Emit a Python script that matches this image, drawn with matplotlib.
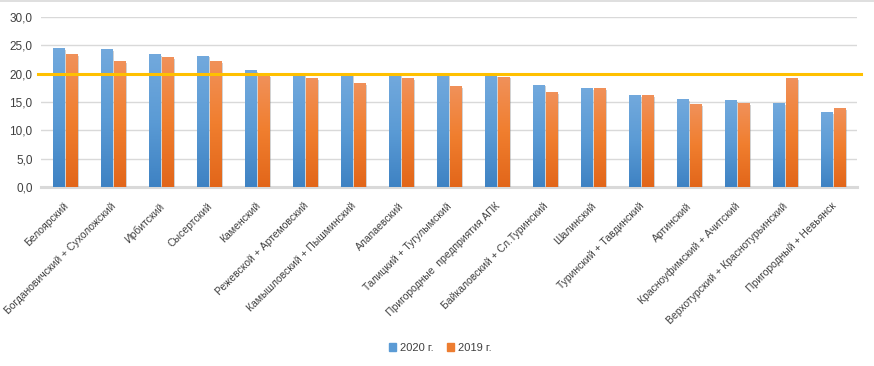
import matplotlib

matplotlib.use("Agg")
import matplotlib.pyplot as plt
import matplotlib.patheffects as pe
import matplotlib.transforms as mtransforms
import numpy as np
from matplotlib.colors import LinearSegmentedColormap
from matplotlib.lines import Line2D

plt.rcParams["font.family"] = ["Liberation Sans", "DejaVu Sans"]

categories = [
    "Белоярский",
    "Богдановичский + Сухоложский",
    "Ирбитский",
    "Сысертский",
    "Каменский",
    "Режевской + Артемовский",
    "Камышловский + Пышминский",
    "Алапаевский",
    "Талицкий + Тугулымский",
    "Пригородные  предприятия АПК",
    "Байкаловский + Сл.Туринский",
    "Шалинский",
    "Туринский + Тавдинский",
    "Артинский",
    "Красноуфимский + Ачитский",
    "Верхотурский + Краснотурьинский",
    "Пригородный + Невьянск",
]
values_2020 = [24.5, 24.3, 23.3, 23.1, 20.5, 19.8, 19.8, 19.8, 19.8, 19.6, 18.0, 17.3, 16.2, 15.5, 15.3, 14.8, 13.2]
values_2019 = [23.3, 22.1, 22.9, 22.2, 19.6, 19.1, 18.2, 19.2, 17.8, 19.4, 16.6, 17.3, 16.1, 14.6, 14.8, 19.2, 13.8]
series_labels = ["2020 г.", "2019 г."]
target_level = 20.0
y_ticks = [0, 5, 10, 15, 20, 25, 30]

blue_grad = LinearSegmentedColormap.from_list("blue", ["#3E82C3", "#5B9BD5", "#72A9DD"])
orange_grad = LinearSegmentedColormap.from_list("orange", ["#E2661A", "#F07E2E", "#F1915A"])

fig = plt.figure(figsize=(8.74, 3.66), dpi=100)
ax = fig.add_axes([41 / 874, (366 - 187) / 366, (857 - 41) / 874, 170 / 366])

x = np.arange(len(categories))
width = 0.23
offset = 0.135
shadow = [pe.SimplePatchShadow(offset=(1.5, -1), shadow_rgbFace="#808080", alpha=0.35), pe.Normal()]
bars_a = ax.bar(x - offset, values_2020, width, color="#5B9BD5", label=series_labels[0], zorder=3)
bars_b = ax.bar(x + offset, values_2019, width, color="#ED7D31", label=series_labels[1], zorder=3)

grad = np.linspace(0, 1, 256).reshape(-1, 1)
for bars, cmap in ((bars_a, blue_grad), (bars_b, orange_grad)):
    for bar in bars:
        bar.set_path_effects(shadow)
        x0, w, h = bar.get_x(), bar.get_width(), bar.get_height()
        ax.imshow(grad, cmap=cmap, extent=[x0, x0 + w, 0, h], origin="lower",
                  aspect="auto", zorder=3.5, interpolation="bilinear")

ax.plot([-0.56, len(categories) - 0.42], [target_level, target_level], color="#FFC000",
        linewidth=2.2, zorder=4, clip_on=False)

ax.set_xlim(-0.5, len(categories) - 0.5)
ax.set_ylim(0, 30)
ax.set_yticks(y_ticks)
ax.set_yticklabels([f"{v:.1f}".replace(".", ",") for v in y_ticks], fontsize=8.5, color="#404040")
ax.grid(axis="y", color="#D9D9D9", linewidth=1.0, zorder=0)
ax.set_axisbelow(True)
for side in ("top", "right", "left"):
    ax.spines[side].set_visible(False)
ax.spines["bottom"].set_color("#D9D9D9")
ax.spines["bottom"].set_linewidth(2.2)
ax.tick_params(axis="both", length=0, pad=6)
ax.set_xticks(x)
ax.set_xticklabels(categories, rotation=45, ha="right", va="top", fontsize=7.5, color="#404040")
ax.tick_params(axis="x", pad=10)
shift = mtransforms.ScaledTranslation(5 / 100, 0, fig.dpi_scale_trans)
for lbl in ax.get_xticklabels():
    lbl.set_transform(lbl.get_transform() + shift)

handles = [plt.Rectangle((0, 0), 1, 1, color="#5B9BD5"), plt.Rectangle((0, 0), 1, 1, color="#ED7D31")]
fig.legend(handles, series_labels, loc="center", bbox_to_anchor=(440 / 874, 1 - 348 / 366),
           ncol=2, frameon=False, fontsize=8, handlelength=0.7, handleheight=0.7,
           handletextpad=0.3, columnspacing=1.2, labelcolor="#404040")

fig.add_artist(Line2D([0, 1], [0.998, 0.998], color="#D9D9D9", linewidth=1.2, transform=fig.transFigure))

fig.savefig("out.png", dpi=100, facecolor="white")
